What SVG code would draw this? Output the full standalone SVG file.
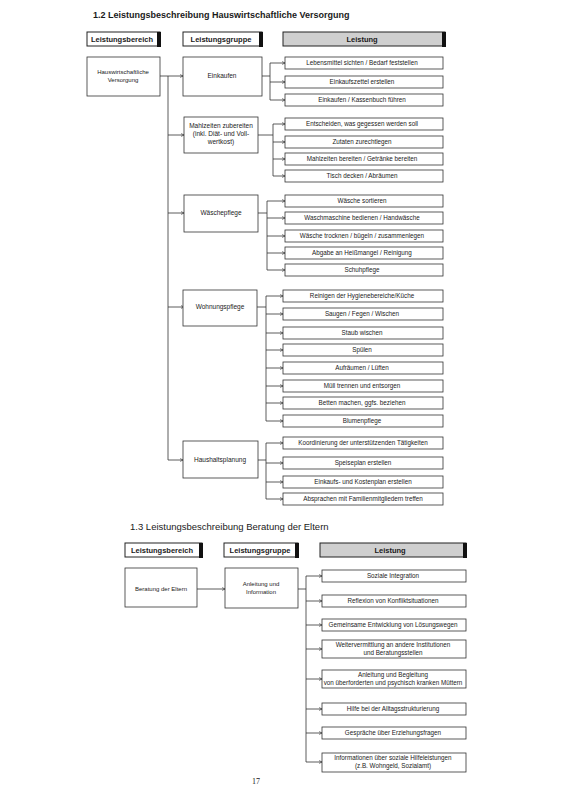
<svg xmlns="http://www.w3.org/2000/svg" width="581" height="802" viewBox="0 0 581 802">
<defs>
<marker id="ar" viewBox="0 0 6 6" refX="6" refY="3" markerWidth="4" markerHeight="4" orient="auto"><path d="M0,0 L6,3 L0,6" fill="none" stroke="#222" stroke-width="1"/></marker>
<style>
text{font-family:"Liberation Sans",Arial,sans-serif;fill:#1a1a1a}
.t{font-size:9px;font-weight:bold}
.t2{font-size:9.5px}
.h{font-size:7.5px;font-weight:bold;text-anchor:middle}
.g{font-size:6.5px;text-anchor:middle}
.i{font-size:6.3px;text-anchor:middle}
.box{fill:#fff;stroke:#333;stroke-width:0.8}
.hb{fill:#fff;stroke:#222;stroke-width:1}
.hg{fill:#cfcfcf;stroke:#222;stroke-width:1}
.sh{fill:#111}
.c{fill:none;stroke:#333;stroke-width:0.8}
.ca{fill:none;stroke:#333;stroke-width:0.8;marker-end:url(#ar)}
</style>
</defs>
<rect width="581" height="802" fill="#fff"/>

<text class="t" x="93" y="18">1.2 Leistungsbeschreibung Hauswirtschaftliche Versorgung</text>

<g id="hdr1">
<rect class="hb" x="87" y="32" width="73" height="14"/><rect class="sh" x="157" y="32" width="4" height="15"/>
<text class="h" x="122" y="42">Leistungsbereich</text>
<rect class="hb" x="183" y="32" width="79" height="14"/><rect class="sh" x="259" y="32" width="4" height="15"/>
<text class="h" x="221" y="42">Leistungsgruppe</text>
<rect class="hg" x="283" y="32" width="162" height="14"/><rect class="sh" x="442" y="32" width="4" height="15"/>
<text class="h" x="362" y="42">Leistung</text>
</g>

<g id="conn1">
<path class="ca" d="M160,76 H183"/>
<path class="c" d="M168,76 V460"/>
<path class="ca" d="M168,135 H184"/>
<path class="ca" d="M168,213 H184"/>
<path class="ca" d="M168,307 H184"/>
<path class="ca" d="M168,460 H183"/>
<path class="c" d="M262,76 H270 M270,63 V100"/>
<path class="ca" d="M270,63 H285"/><path class="ca" d="M270,82 H285"/><path class="ca" d="M270,100 H285"/>
<path class="c" d="M258,135 H273 M273,124 V176"/>
<path class="ca" d="M273,124 H285"/><path class="ca" d="M273,142 H285"/><path class="ca" d="M273,159 H285"/><path class="ca" d="M273,176 H285"/>
<path class="c" d="M258,213 H267 M267,201 V270"/>
<path class="ca" d="M267,201 H285"/><path class="ca" d="M267,218 H285"/><path class="ca" d="M267,236 H285"/><path class="ca" d="M267,253 H285"/><path class="ca" d="M267,270 H285"/>
<path class="c" d="M257,307 H266 M266,296 V421"/>
<path class="ca" d="M266,296 H283"/><path class="ca" d="M266,314 H283"/><path class="ca" d="M266,333 H283"/><path class="ca" d="M266,350 H283"/><path class="ca" d="M266,368 H283"/><path class="ca" d="M266,386 H283"/><path class="ca" d="M266,403 H283"/><path class="ca" d="M266,421 H283"/>
<path class="c" d="M258,460 H266 M266,443 V499"/>
<path class="ca" d="M266,443 H283"/><path class="ca" d="M266,463 H283"/><path class="ca" d="M266,482 H283"/><path class="ca" d="M266,499 H283"/>
</g>

<g id="bereich1"><rect class="box" x="87" y="57" width="73" height="39"/>
<text class="g" x="123" y="74" style="font-size:6px">Hauswirtschaftliche</text><text class="g" x="123" y="82" style="font-size:6px">Versorgung</text></g>

<g id="einkaufen"><rect class="box" x="183" y="57" width="79" height="39"/><text class="g" x="222" y="78">Einkaufen</text></g>
<g id="mahlzeiten"><rect class="box" x="184" y="117" width="74" height="36"/>
<text class="g" x="221" y="128">Mahlzeiten zubereiten</text><text class="g" x="221" y="136">(inkl. Diät- und Voll-</text><text class="g" x="221" y="144">wertkost)</text></g>
<g id="waesche"><rect class="box" x="184" y="195" width="74" height="37"/><text class="g" x="221" y="215">Wäschepflege</text></g>
<g id="wohnung"><rect class="box" x="183" y="290" width="74" height="36"/><text class="g" x="220" y="309">Wohnungspflege</text></g>
<g id="haushalt"><rect class="box" x="183" y="441" width="75" height="37"/><text class="g" x="220" y="462">Haushaltsplanung</text></g>

<g id="items1">
<rect class="box" x="285" y="57" width="158" height="12"/><text class="i" x="362" y="65">Lebensmittel sichten / Bedarf feststellen</text>
<rect class="box" x="285" y="76" width="158" height="12"/><text class="i" x="362" y="84">Einkaufszettel erstellen</text>
<rect class="box" x="285" y="94" width="158" height="12"/><text class="i" x="362" y="102">Einkaufen / Kassenbuch führen</text>
<rect class="box" x="285" y="118" width="158" height="12"/><text class="i" x="362" y="126">Entscheiden, was gegessen werden soll</text>
<rect class="box" x="285" y="136" width="158" height="12"/><text class="i" x="362" y="144">Zutaten zurechtlegen</text>
<rect class="box" x="285" y="153" width="158" height="12"/><text class="i" x="362" y="161">Mahlzeiten bereiten / Getränke bereiten</text>
<rect class="box" x="285" y="170" width="158" height="12"/><text class="i" x="362" y="178">Tisch decken / Abräumen</text>
<rect class="box" x="285" y="195" width="158" height="12"/><text class="i" x="362" y="203">Wäsche sortieren</text>
<rect class="box" x="285" y="212" width="158" height="12"/><text class="i" x="362" y="220">Waschmaschine bedienen / Handwäsche</text>
<rect class="box" x="285" y="230" width="158" height="12"/><text class="i" x="362" y="238">Wäsche trocknen / bügeln / zusammenlegen</text>
<rect class="box" x="285" y="247" width="158" height="12"/><text class="i" x="362" y="255">Abgabe an Heißmangel / Reinigung</text>
<rect class="box" x="285" y="264" width="158" height="12"/><text class="i" x="362" y="272">Schuhpflege</text>
<rect class="box" x="283" y="290" width="160" height="12"/><text class="i" x="362" y="298">Reinigen der Hygienebereiche/Küche</text>
<rect class="box" x="283" y="308" width="160" height="12"/><text class="i" x="362" y="316">Saugen / Fegen / Wischen</text>
<rect class="box" x="283" y="327" width="160" height="12"/><text class="i" x="362" y="335">Staub wischen</text>
<rect class="box" x="283" y="344" width="160" height="12"/><text class="i" x="362" y="352">Spülen</text>
<rect class="box" x="283" y="362" width="160" height="12"/><text class="i" x="362" y="370">Aufräumen / Lüften</text>
<rect class="box" x="283" y="380" width="160" height="12"/><text class="i" x="362" y="388">Müll trennen und entsorgen</text>
<rect class="box" x="283" y="397" width="160" height="12"/><text class="i" x="362" y="405">Betten machen, ggfs. beziehen</text>
<rect class="box" x="283" y="415" width="160" height="12"/><text class="i" x="362" y="423">Blumenpflege</text>
<rect class="box" x="283" y="437" width="160" height="12"/><text class="i" x="363" y="445">Koordinierung der unterstützenden Tätigkeiten</text>
<rect class="box" x="283" y="457" width="160" height="12"/><text class="i" x="363" y="465">Speiseplan erstellen</text>
<rect class="box" x="283" y="476" width="160" height="12"/><text class="i" x="363" y="484">Einkaufs- und Kostenplan erstellen</text>
<rect class="box" x="283" y="493" width="160" height="12"/><text class="i" x="363" y="501">Absprachen mit Familienmitgliedern treffen</text>
</g>

<text class="t2" x="130" y="530">1.3 Leistungsbeschreibung Beratung der Eltern</text>

<g id="hdr2">
<rect class="hb" x="125" y="543" width="77" height="14"/><rect class="sh" x="199" y="543" width="4" height="15"/>
<text class="h" x="162" y="553">Leistungsbereich</text>
<rect class="hb" x="224" y="543" width="74" height="14"/><rect class="sh" x="295" y="543" width="4" height="15"/>
<text class="h" x="260" y="553">Leistungsgruppe</text>
<rect class="hg" x="320" y="543" width="146" height="14"/><rect class="sh" x="463" y="543" width="4" height="15"/>
<text class="h" x="390" y="553">Leistung</text>
</g>

<g id="conn2">
<path class="ca" d="M197,589 H225"/>
<path class="c" d="M298,589 H306 M306,576 V762"/>
<path class="ca" d="M306,576 H322"/><path class="ca" d="M306,601 H322"/><path class="ca" d="M306,625 H322"/><path class="ca" d="M306,649 H322"/><path class="ca" d="M306,679 H322"/><path class="ca" d="M306,709 H322"/><path class="ca" d="M306,733 H322"/><path class="ca" d="M306,762 H322"/>
</g>

<g id="bereich2"><rect class="box" x="125" y="568" width="72" height="39"/><text class="g" x="161" y="591" style="font-size:6px">Beratung der Eltern</text></g>
<g id="gruppe2"><rect class="box" x="225" y="568" width="73" height="40"/>
<text class="g" x="261" y="586" style="font-size:6px">Anleitung und</text><text class="g" x="261" y="594" style="font-size:6px">Information</text></g>

<g id="items2">
<rect class="box" x="322" y="570" width="144" height="12"/><text class="i" x="393" y="578">Soziale Integration</text>
<rect class="box" x="322" y="595" width="144" height="12"/><text class="i" x="393" y="603">Reflexion von Konfliktsituationen</text>
<rect class="box" x="322" y="619" width="144" height="12"/><text class="i" x="393" y="627">Gemeinsame Entwicklung von Lösungswegen</text>
<rect class="box" x="322" y="640" width="144" height="18"/><text class="i" x="393" y="647">Weitervermittlung an andere Institutionen</text><text class="i" x="393" y="655">und Beratungsstellen</text>
<rect class="box" x="322" y="670" width="144" height="18"/><text class="i" x="393" y="677">Anleitung und Begleitung</text><text class="i" x="393" y="685">von überforderten und psychisch kranken Müttern</text>
<rect class="box" x="322" y="703" width="144" height="12"/><text class="i" x="393" y="711">Hilfe bei der Alltagsstrukturierung</text>
<rect class="box" x="322" y="727" width="144" height="12"/><text class="i" x="393" y="735">Gespräche über Erziehungsfragen</text>
<rect class="box" x="322" y="753" width="144" height="19"/><text class="i" x="393" y="760">Informationen über soziale Hilfeleistungen</text><text class="i" x="393" y="768">(z.B. Wohngeld, Sozialamt)</text>
</g>

<text x="252" y="784" style="font-family:'Liberation Serif',serif;font-size:8px">17</text>
</svg>
